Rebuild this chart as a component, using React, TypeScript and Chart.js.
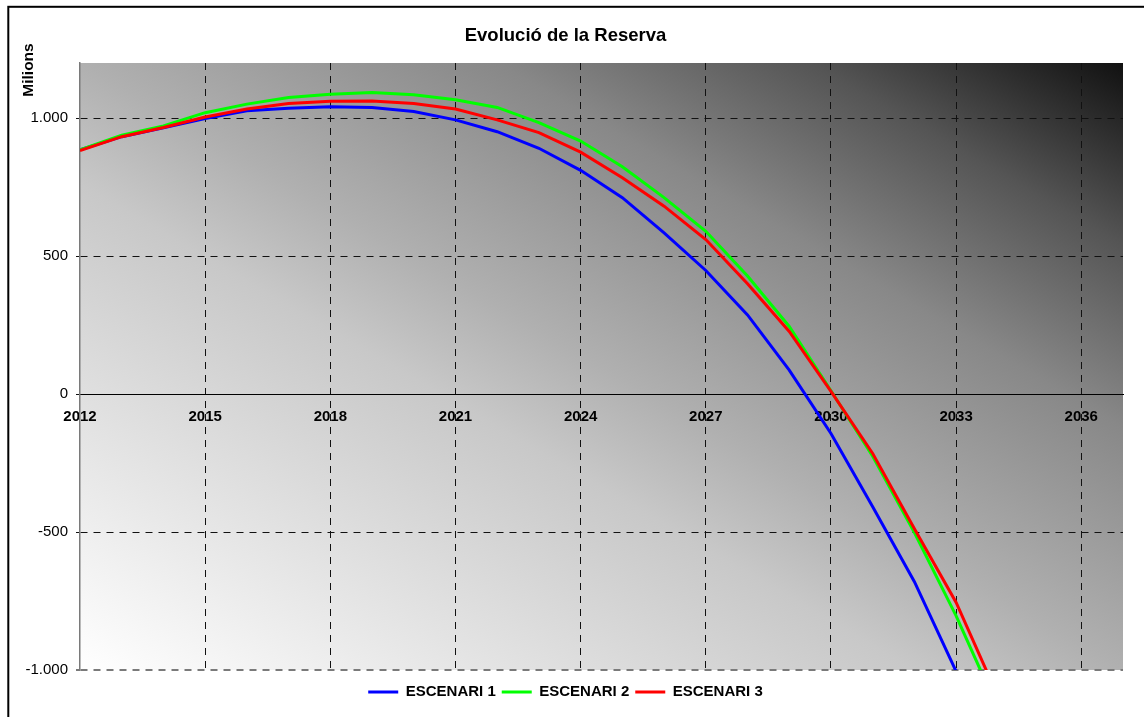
import React, { useEffect, useRef } from 'react';
import { Chart, registerables } from 'chart.js';

Chart.register(...registerables);

const TITLE = 'Evolució de la Reserva';
const Y_TITLE = 'Milions';
const seriesNames = ['ESCENARI 1', 'ESCENARI 2', 'ESCENARI 3'];
const seriesColors = ['#0000ff', '#00ff00', '#ff0000'];

const years1 = [2012, 2013, 2014, 2015, 2016, 2017, 2018, 2019, 2020, 2021, 2022, 2023, 2024, 2025, 2026, 2027, 2028, 2029, 2030, 2031, 2032, 2033];
const escenari1 = [885, 933, 965, 999, 1027, 1036, 1041, 1039, 1024, 994, 951, 891, 811, 712, 584, 448, 287, 87, -143, -408, -680, -1005];

const years23 = [2012, 2013, 2014, 2015, 2016, 2017, 2018, 2019, 2020, 2021, 2022, 2023, 2024, 2025, 2026, 2027, 2028, 2029, 2030, 2031, 2032, 2033, 2034];
const escenari2 = [885, 938, 972, 1020, 1051, 1075, 1087, 1093, 1085, 1067, 1039, 984, 917, 824, 712, 590, 428, 245, 12, -225, -502, -804, -1140];
const escenari3 = [883, 933, 966, 1004, 1033, 1053, 1061, 1062, 1053, 1033, 994, 948, 877, 784, 681, 560, 400, 227, 10, -215, -488, -755, -1095];

const xTickValues = [2012, 2015, 2018, 2021, 2024, 2027, 2030, 2033, 2036];
const yTickValues = [-1000, -500, 0, 500, 1000];
const X_MIN = 2012;
const X_MAX = 2037;
const Y_MIN = -1000;
const Y_MAX = 1200;

const FONT = "'Liberation Sans', Arial, Helvetica, sans-serif";
const DASH = [7, 6];

const fmtThousands = (v: number) => {
  const n = Math.round(v);
  const s = Math.abs(n).toString().replace(/\B(?=(\d{3})+(?!\d))/g, '.');
  return (n < 0 ? '-' : '') + s;
};

const toPoints = (xs: number[], ys: number[]) => xs.map((x, i) => ({ x, y: ys[i] }));

const bgPlugin = {
  id: 'bgGradient',
  beforeDraw(chart: any) {
    const { ctx, chartArea } = chart;
    if (!chartArea) return;
    const { left, top, right, bottom } = chartArea;
    ctx.save();
    ctx.translate(left, top);
    ctx.scale(right - left, bottom - top);
    const g = ctx.createLinearGradient(0, 1, 1, 0);
    g.addColorStop(0, '#ffffff');
    g.addColorStop(0.4, '#c8c8c8');
    g.addColorStop(0.5, '#b0b0b0');
    g.addColorStop(0.7, '#888888');
    g.addColorStop(0.85, '#555555');
    g.addColorStop(1, '#111111');
    ctx.fillStyle = g;
    ctx.fillRect(0, 0, 1, 1);
    ctx.restore();
  },
};

const decoPlugin = {
  id: 'deco',
  afterDraw(chart: any) {
    const { ctx } = chart;
    ctx.save();
    ctx.fillStyle = '#000';
    ctx.font = `bold 15.5px ${FONT}`;
    ctx.textAlign = 'center';
    ctx.textBaseline = 'middle';
    ctx.translate(29, 70);
    ctx.rotate(-Math.PI / 2);
    ctx.fillText(Y_TITLE, 0, 0);
    ctx.restore();
    ctx.save();
    ctx.strokeStyle = '#000';
    ctx.lineWidth = 2;
    ctx.strokeRect(8.3, 6.8, 2000, 2000);
    ctx.restore();
  },
};

export default function App() {
  const canvasRef = useRef<HTMLCanvasElement | null>(null);

  useEffect(() => {
    const canvas = canvasRef.current;
    if (!canvas) return;
    const xsList = [years1, years23, years23];
    const ysList = [escenari1, escenari2, escenari3];
    const datasets = seriesNames.map((name, i) => ({
      label: name,
      data: toPoints(xsList[i], ysList[i]),
      borderColor: seriesColors[i],
      backgroundColor: seriesColors[i],
      borderWidth: 3,
      pointRadius: 0,
      pointHoverRadius: 0,
      tension: 0,
      fill: false,
      order: 2 - i,
      clip: 0,
    }));

    const chart = new Chart(canvas, {
      type: 'line',
      data: { datasets },
      plugins: [bgPlugin, decoPlugin],
      options: {
        responsive: false,
        animation: false,
        devicePixelRatio: 1,
        layout: { padding: { left: 8, right: 21, top: 0, bottom: 7.5 } },
        plugins: {
          title: {
            display: true,
            text: TITLE,
            color: '#000',
            font: { family: FONT, size: 18.5, weight: 'bold' },
            padding: { top: 24.9, bottom: 15.9 },
          },
          legend: {
            display: true,
            position: 'bottom',
            title: { display: true, text: '', padding: 0, font: { size: 8.5, lineHeight: 1 } },
            labels: {
              usePointStyle: true,
              pointStyle: 'line',
              pointStyleWidth: 30,
              padding: 6,
              color: '#000',
              font: { family: FONT, size: 15, weight: 'bold' },
              sort: (a: any, b: any) => a.datasetIndex - b.datasetIndex,
            },
          },
          tooltip: { enabled: false },
        },
        scales: {
          x: {
            type: 'linear',
            position: { y: 0 } as any,
            min: X_MIN,
            max: X_MAX,
            afterBuildTicks: (scale: any) => {
              scale.ticks = xTickValues.map((v) => ({ value: v }));
            },
            ticks: {
              padding: 14,
              color: '#000',
              font: { family: FONT, size: 15, weight: 'bold' },
              callback: (v: any) => String(v),
            },
            grid: {
              color: (c: any) => (c.tick && c.tick.value === X_MIN ? 'rgba(0,0,0,0)' : '#111'),
              lineWidth: 1,
              drawTicks: false,
            },
            border: { display: true, color: '#000', width: 1, dash: DASH },
          },
          y: {
            type: 'linear',
            position: 'left',
            min: Y_MIN,
            max: Y_MAX,
            afterFit: (scale: any) => {
              scale.width = 72;
            },
            afterBuildTicks: (scale: any) => {
              scale.ticks = yTickValues.map((v) => ({ value: v }));
            },
            ticks: {
              padding: 8,
              color: '#000',
              font: { family: FONT, size: 15 },
              callback: (v: any) => fmtThousands(Number(v)),
            },
            grid: {
              color: (c: any) => (c.tick && c.tick.value === Y_MIN ? '#7a7a7a' : '#111'),
              lineWidth: (c: any) => (c.tick && c.tick.value === Y_MIN ? 2 : 1),
              tickLength: 4,
              drawTicks: true,
              tickBorderDash: [],
            },
            border: { display: true, color: '#7a7a7a', width: 1.5, dash: DASH },
          },
        },
      } as any,
    });

    return () => chart.destroy();
  }, []);

  return (
    <div style={{ position: 'absolute', left: 0, top: 0, width: 1144, height: 717, background: '#fff' }}>
      <canvas ref={canvasRef} width={1144} height={717} style={{ display: 'block' }} />
    </div>
  );
}
